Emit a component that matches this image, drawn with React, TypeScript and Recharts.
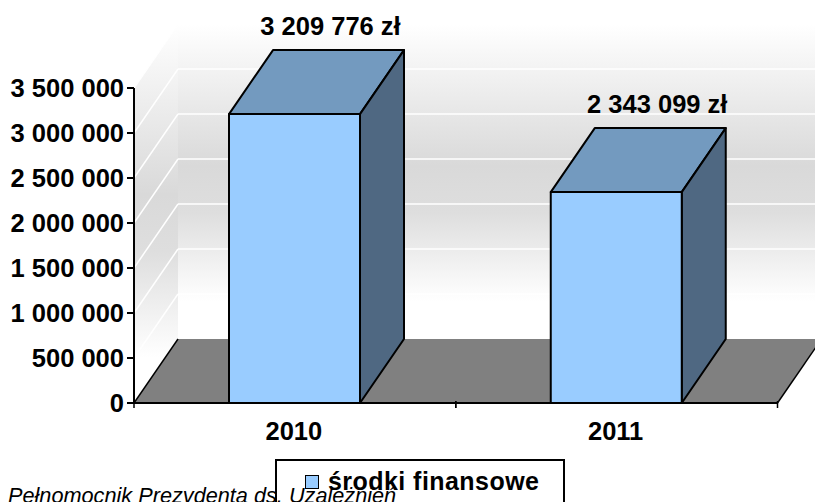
import { BarChart, Bar, XAxis, YAxis, Legend, LabelList, CartesianGrid, usePlotArea } from 'recharts';

const years = ['2010', '2011'];
const funds = [3209776, 2343099];
const yTicks = [0, 500000, 1000000, 1500000, 2000000, 2500000, 3000000, 3500000];
const seriesName = 'środki finansowe';
const footer = 'Pełnomocnik Prezydenta ds. Uzależnień';

const data = years.map((year, i) => ({ year, funds: funds[i] }));

const FONT = '"Liberation Sans", Arial, sans-serif';
const FONT_SIZE = 25.5;
const DX = 44; // 3d depth
const DY = -64;
const LINE = '#000';

const spaced = (v: number) => String(v).replace(/\B(?=(\d{3})+$)/g, ' ');

const Box = (props: any) => {
  const { x, y, width, height } = props;
  const r = x + width;
  const b = y + height;
  return (
    <g stroke={LINE} strokeWidth={2} strokeLinejoin="round">
      <polygon points={`${x},${y} ${x + DX},${y + DY} ${r + DX},${y + DY} ${r},${y}`} fill="#739abf" />
      <polygon points={`${r},${y} ${r + DX},${y + DY} ${r + DX},${b + DY} ${r},${b}`} fill="#4f6882" />
      <rect x={x} y={y} width={width} height={height} fill="#99ccff" />
    </g>
  );
};

// walls and floor behind the bars, from the plot area
const Room = () => {
  const plot = usePlotArea();
  if (!plot) return null;
  const { x, y, width, height } = plot;
  const b = y + height;
  const r = x + width;
  return (
    <g>
      <defs>
        <linearGradient id="wall" x1="0" y1="0" x2="0" y2="1">
          <stop offset="0" stopColor="#ffffff" />
          <stop offset="0.45" stopColor="#d9d9d9" />
          <stop offset="0.6" stopColor="#dedede" />
          <stop offset="0.88" stopColor="#ffffff" />
          <stop offset="1" stopColor="#ffffff" />
        </linearGradient>
      </defs>
      <polygon points={`${x},${y} ${x + DX},${y + DY} ${x + DX},${b + DY} ${x},${b}`} fill="url(#wall)" />
      <rect x={x + DX} y={y + DY} width={width} height={height} fill="url(#wall)" />
      <polygon points={`${x},${b} ${x + DX},${b + DY} ${r + DX},${b + DY} ${r},${b}`} fill="#808080" />
      <line x1={x} y1={b} x2={x + DX} y2={b + DY} stroke={LINE} strokeWidth={1.5} />
      <line x1={r} y1={b} x2={r + DX} y2={b + DY} stroke={LINE} strokeWidth={1.5} />
    </g>
  );
};

const GridLine = (props: any) => {
  const { x1, y1, x2, y2 } = props;
  if (y1 >= 403) return <g key={y1} />;
  return (
    <g key={y1} stroke="#fff" strokeWidth={1.5}>
      <line x1={x1} y1={y1} x2={x1 + DX} y2={y1 + DY} />
      <line x1={x1 + DX} y1={y1 + DY} x2={x2 + DX} y2={y2 + DY} />
    </g>
  );
};

const BAND = 321.75;

const YearTick = (props: any) => {
  const { x, y, payload } = props;
  const top = y - 10;
  return (
    <g>
      <line x1={x - BAND / 2} y1={top} x2={x - BAND / 2} y2={top + 7} stroke={LINE} strokeWidth={1.5} />
      <line x1={x + BAND / 2} y1={top} x2={x + BAND / 2} y2={top + 7} stroke={LINE} strokeWidth={1.5} />
      <text x={x - 1} y={440} textAnchor="middle" fontFamily={FONT} fontWeight="bold" fontSize={FONT_SIZE} fill="#000">
        {payload.value}
      </text>
    </g>
  );
};

const ValueLabel = (props: any) => {
  const { x, y, width, value, index } = props;
  return (
    <text x={x + width / 2 + (index === 0 ? 36 : 41)} y={y - 79} textAnchor="middle" fontFamily={FONT} fontWeight="bold" fontSize={FONT_SIZE} fill="#000">
      {spaced(value)} zł
    </text>
  );
};

const LegendBox = () => (
  <div style={{ position: 'absolute', left: 275, top: 459, width: 286, height: 60, background: '#fff', border: '2px solid #000' }}>
    <div style={{ position: 'absolute', left: 28, top: 14, width: 12, height: 12, background: '#99ccff', border: '1.5px solid #000' }} />
    <div style={{ position: 'absolute', left: 51, top: 6, fontFamily: FONT, fontWeight: 'bold', fontSize: 25, letterSpacing: 0.45, whiteSpace: 'nowrap', color: '#000' }}>
      {seriesName}
    </div>
  </div>
);

export default function App() {
  return (
    <div style={{ position: 'absolute', left: 0, top: 0, width: 815, height: 502, overflow: 'hidden', background: '#fff' }}>
      <BarChart width={815} height={502} data={data} margin={{ top: 88, right: 37.5, bottom: 0, left: 0 }} barSize={131}>
        <Room />
        <CartesianGrid vertical={false} horizontal={GridLine as any} zIndex={100} />
        <XAxis dataKey="year" height={99} axisLine={{ stroke: LINE, strokeWidth: 2 }} tickLine={false} tick={YearTick} interval={0} />
        <YAxis
          width={134}
          domain={[0, 3500000]}
          ticks={yTicks}
          interval={0}
          tickFormatter={spaced}
          tickSize={7}
          tickMargin={3}
          axisLine={{ stroke: LINE, strokeWidth: 2 }}
          tickLine={{ stroke: LINE, strokeWidth: 2 }}
          tick={{ fontFamily: FONT, fontWeight: 'bold', fontSize: FONT_SIZE, fill: '#000' }}
        />
        <Bar dataKey="funds" name={seriesName} shape={Box} isAnimationActive={false}>
          <LabelList dataKey="funds" content={ValueLabel} />
        </Bar>
        <Legend content={LegendBox} wrapperStyle={{ left: 0, top: 0, width: 0, height: 0 }} />
      </BarChart>
      <div style={{ position: 'absolute', left: 8, top: 483, fontFamily: FONT, fontStyle: 'italic', fontSize: 21.7, whiteSpace: 'nowrap', color: '#000' }}>
        {footer}
      </div>
    </div>
  );
}
